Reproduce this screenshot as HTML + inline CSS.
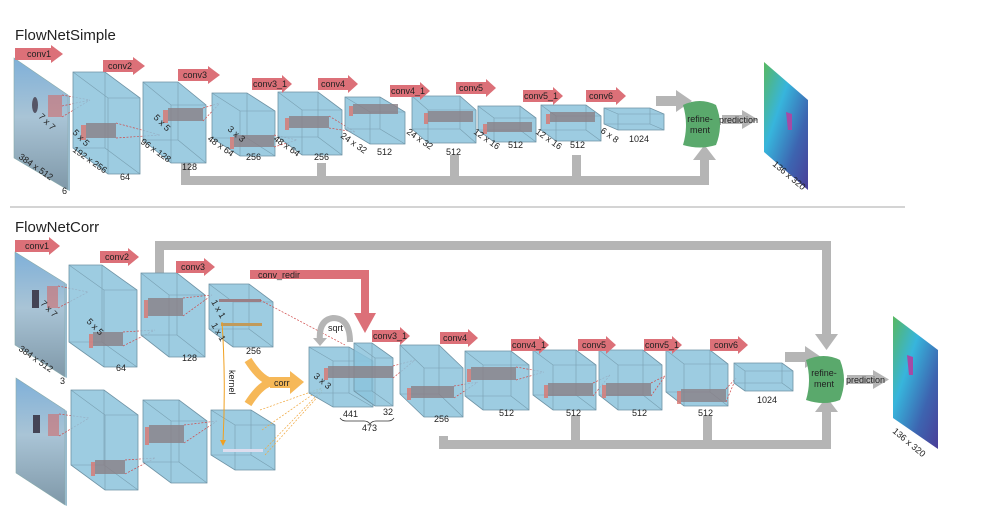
<!DOCTYPE html>
<html><head><meta charset="utf-8"><style>
html,body{margin:0;padding:0;background:#fff;}
svg{display:block;font-family:"Liberation Sans",sans-serif;}
.s{fill:#8cc3dc;fill-opacity:.85;stroke:#6f93a5;stroke-width:.8}
.e{fill:none;stroke:#6f93a5;stroke-width:.6;stroke-opacity:.8}
.ra{fill:#dc7078}
.rt{font-size:9px;fill:#222}
.l{font-size:9px;fill:#222}
.g{fill:#b5b5b5}
.p{fill:#8a7f86;fill-opacity:.8}
.pr{fill:#d9766f;fill-opacity:.8}
.d{stroke:#d04848;stroke-width:.7;stroke-dasharray:2,1.5;fill:none}
.od{stroke:#f0a840;stroke-width:.7;stroke-dasharray:2,1.5;fill:none}
</style></head><body>
<svg width="987" height="514" viewBox="0 0 987 514">
<defs>
<linearGradient id="img" x1="0" y1="0" x2="0" y2="1"><stop offset="0" stop-color="#7fb0d8"/><stop offset=".45" stop-color="#a9c4d6"/><stop offset="1" stop-color="#7f98a8"/></linearGradient>
<linearGradient id="flow" x1="0" y1="0" x2="1" y2="1"><stop offset="0" stop-color="#58b860"/><stop offset=".35" stop-color="#37b5dc"/><stop offset=".7" stop-color="#3d64b0"/><stop offset="1" stop-color="#4a3e98"/></linearGradient>
</defs>

<text x="15" y="40" font-size="15" fill="#222">FlowNetSimple</text>
<line x1="10" y1="207" x2="905" y2="207" stroke="#aaa" stroke-width="1"/>
<text x="15" y="232" font-size="15" fill="#222">FlowNetCorr</text>

<!-- ============ TOP ============ -->
<!-- gray bus -->
<rect class="g" x="181" y="176" width="528" height="9"/>
<rect class="g" x="181" y="163" width="9" height="20"/>
<rect class="g" x="317" y="163" width="9" height="20"/>
<rect class="g" x="450" y="155" width="9" height="25"/>
<rect class="g" x="572" y="155" width="9" height="25"/>
<rect class="g" x="700" y="160" width="9" height="20"/>
<polygon class="g" points="693,160 716,160 704.5,145"/>
<rect class="g" x="656" y="96" width="22" height="10"/>
<polygon class="g" points="676,90 676,112 692,101"/>
<rect class="g" x="722" y="115" width="22" height="9"/>
<polygon class="g" points="742,110 742,129 758,119.5"/>
<text class="l" x="719" y="123" font-size="8.5">prediction</text>

<!-- input image -->
<polygon points="14,58 68,95 68,190 14,158" fill="url(#img)" stroke="#8aa" stroke-width=".6"/>
<polygon points="68,95 70,96 70,191 68,190" fill="#9bc"/>
<ellipse cx="35" cy="105" rx="3" ry="8" fill="#556"/>
<rect x="48" y="95" width="14" height="22" fill="#d06a6a" fill-opacity=".6"/>
<path class="d" d="M62,95 L90,100 M62,117 L90,100 M62,106 L90,100"/>

<g transform="translate(73,72)"><path class="s" d="M0,0 h32 l35,26 v76 h-32 l-35,-26 z"/><path class="e" d="M0,0 l35,26 h32 M35,26 v76 M32,0 v76 h-32 M32,76 l35,26"/></g>
<rect class="pr" x="81" y="125" width="5" height="15"/><rect class="p" x="86" y="123" width="30" height="15"/>
<path class="d" d="M116,123 L160,135 M116,138 L160,135"/>
<g transform="translate(143,82)"><path class="s" d="M0,0 h35 l28,23 v58 h-35 l-28,-23 z"/><path class="e" d="M0,0 l28,23 h35 M28,23 v58 M35,0 v58 h-35 M35,58 l28,23"/></g>
<rect class="pr" x="163" y="110" width="5" height="13"/><rect class="p" x="168" y="108" width="35" height="13"/>
<path class="d" d="M203,108 L220,103 M203,121 L220,103"/>
<g transform="translate(212,93)"><path class="s" d="M0,0 h35 l28,18 v45 h-35 l-28,-18 z"/><path class="e" d="M0,0 l28,18 h35 M28,18 v45 M35,0 v45 h-35 M35,45 l28,18"/></g>
<rect class="pr" x="230" y="137" width="4" height="12"/><rect class="p" x="234" y="135" width="40" height="12"/>
<path class="d" d="M274,135 L297,140 M274,147 L297,140"/>
<g transform="translate(278,92)"><path class="s" d="M0,0 h40 l24,18 v45 h-40 l-24,-18 z"/><path class="e" d="M0,0 l24,18 h40 M24,18 v45 M40,0 v45 h-40 M40,45 l24,18"/></g>
<rect class="pr" x="285" y="118" width="4" height="12"/><rect class="p" x="289" y="116" width="40" height="12"/>
<path class="d" d="M329,116 L355,132 M329,128 L355,132"/>
<g transform="translate(345,97)"><path class="s" d="M0,0 h35 l25,15 v32 h-35 l-25,-15 z"/><path class="e" d="M0,0 l25,15 h35 M25,15 v32 M35,0 v32 h-35 M35,32 l25,15"/></g>
<rect class="pr" x="349" y="106" width="4" height="10"/><rect class="p" x="353" y="104" width="45" height="10"/>
<g transform="translate(412,96)"><path class="s" d="M0,0 h48 l16,14 v33 h-48 l-16,-14 z"/><path class="e" d="M0,0 l16,14 h48 M16,14 v33 M48,0 v33 h-48 M48,33 l16,14"/></g>
<rect class="pr" x="424" y="113" width="4" height="11"/><rect class="p" x="428" y="111" width="45" height="11"/>
<g transform="translate(478,106)"><path class="s" d="M0,0 h42 l16,12 v24 h-42 l-16,-12 z"/><path class="e" d="M0,0 l16,12 h42 M16,12 v24 M42,0 v24 h-42 M42,24 l16,12"/></g>
<rect class="pr" x="483" y="124" width="4" height="10"/><rect class="p" x="487" y="122" width="45" height="10"/>
<g transform="translate(541,105)"><path class="s" d="M0,0 h45 l15,11 v25 h-45 l-15,-11 z"/><path class="e" d="M0,0 l15,11 h45 M15,11 v25 M45,0 v25 h-45 M45,25 l15,11"/></g>
<rect class="pr" x="546" y="114" width="4" height="10"/><rect class="p" x="550" y="112" width="45" height="10"/>
<g transform="translate(604,108)"><path class="s" d="M0,0 h46 l14,6 v16 h-46 l-14,-6 z"/><path class="e" d="M0,0 l14,6 h46 M14,6 v16 M46,0 v16 h-46 M46,16 l14,6"/></g>

<!-- refinement top -->
<path d="M683,105 Q700,97 716,105 Q724,125 716,145 Q700,150 683,145 Q689,125 683,105 z" fill="#5aa96c"/>
<text class="l" x="700" y="122" text-anchor="middle" font-size="8">refine-</text>
<text class="l" x="700" y="133" text-anchor="middle" font-size="8">ment</text>
<!-- output -->
<polygon points="764,62 808,100 808,190 764,152" fill="url(#flow)"/>
<path d="M786,112 l6,2 l0,16 l-4,0 z" fill="#a54aa5"/>
<text class="l" transform="translate(772,165) rotate(40)">136 x 320</text>

<!-- red arrows top -->
<g transform="translate(15,48)"><path class="ra" d="M0,0 h36 v-3 l12,9 l-12,9 v-3 h-36 z"/><text class="rt" x="12" y="9">conv1</text></g>
<g transform="translate(103,60)"><path class="ra" d="M0,0 h30 v-3 l12,9 l-12,9 v-3 h-30 z"/><text class="rt" x="5" y="9">conv2</text></g>
<g transform="translate(178,69)"><path class="ra" d="M0,0 h30 v-3 l12,9 l-12,9 v-3 h-30 z"/><text class="rt" x="5" y="9">conv3</text></g>
<g transform="translate(252,78)"><path class="ra" d="M0,0 h30 v-3 l10,9 l-10,9 v-3 h-30 z"/><text class="rt" x="1" y="9">conv3_1</text></g>
<g transform="translate(318,78)"><path class="ra" d="M0,0 h30 v-3 l10,9 l-10,9 v-3 h-30 z"/><text class="rt" x="3" y="9">conv4</text></g>
<g transform="translate(390,85)"><path class="ra" d="M0,0 h30 v-3 l10,9 l-10,9 v-3 h-30 z"/><text class="rt" x="1" y="9">conv4_1</text></g>
<g transform="translate(456,82)"><path class="ra" d="M0,0 h30 v-3 l10,9 l-10,9 v-3 h-30 z"/><text class="rt" x="3" y="9">conv5</text></g>
<g transform="translate(523,90)"><path class="ra" d="M0,0 h30 v-3 l10,9 l-10,9 v-3 h-30 z"/><text class="rt" x="1" y="9">conv5_1</text></g>
<g transform="translate(586,90)"><path class="ra" d="M0,0 h30 v-3 l10,9 l-10,9 v-3 h-30 z"/><text class="rt" x="3" y="9">conv6</text></g>

<!-- top labels -->
<text class="l" transform="translate(38,117) rotate(45)">7 x 7</text>
<text class="l" transform="translate(72,133) rotate(45)">5 x 5</text>
<text class="l" transform="translate(72,151) rotate(35)">192 x 256</text>
<text class="l" x="120" y="180">64</text>
<text class="l" transform="translate(153,118) rotate(45)">5 x 5</text>
<text class="l" transform="translate(140,143) rotate(35)">96 x 128</text>
<text class="l" x="182" y="170">128</text>
<text class="l" transform="translate(227,130) rotate(40)">3 x 3</text>
<text class="l" transform="translate(207,140) rotate(35)">48 x 64</text>
<text class="l" x="246" y="160">256</text>
<text class="l" transform="translate(273,140) rotate(35)">48 x 64</text>
<text class="l" x="314" y="160">256</text>
<text class="l" transform="translate(340,137) rotate(35)">24 x 32</text>
<text class="l" x="377" y="155">512</text>
<text class="l" transform="translate(406,133) rotate(35)">24 x 32</text>
<text class="l" x="446" y="155">512</text>
<text class="l" transform="translate(473,133) rotate(35)">12 x 16</text>
<text class="l" x="508" y="148">512</text>
<text class="l" transform="translate(535,133) rotate(35)">12 x 16</text>
<text class="l" x="570" y="148">512</text>
<text class="l" transform="translate(600,132) rotate(35)">6 x 8</text>
<text class="l" x="629" y="142">1024</text>
<text class="l" transform="translate(18,158) rotate(35)">384 x 512</text>
<text class="l" x="62" y="194">6</text>

<!-- ============ BOTTOM ============ -->
<!-- top gray bus -->
<rect class="g" x="155" y="241" width="676" height="9"/>
<rect class="g" x="155" y="241" width="9" height="32"/>
<rect class="g" x="822" y="241" width="9" height="95"/>
<polygon class="g" points="815,334 838,334 826.5,350"/>
<rect class="g" x="439" y="436" width="9" height="12"/>
<rect class="g" x="439" y="440" width="392" height="9"/>
<rect class="g" x="571" y="416" width="9" height="28"/>
<rect class="g" x="703" y="416" width="9" height="28"/>
<rect class="g" x="822" y="410" width="9" height="35"/>
<polygon class="g" points="815,412 838,412 826.5,397"/>
<rect class="g" x="785" y="352" width="22" height="10"/>
<polygon class="g" points="805,346 805,368 821,357"/>
<rect class="g" x="847" y="375" width="28" height="9"/>
<polygon class="g" points="873,370 873,389 889,379.5"/>
<text class="l" x="846" y="383" font-size="8.5">prediction</text>

<!-- inputs -->
<polygon points="15,252 65,283 65,377 15,345" fill="url(#img)" stroke="#8aa" stroke-width=".6"/>
<polygon points="65,283 67,284 67,378 65,377" fill="#9bc"/>
<rect x="32" y="290" width="7" height="18" fill="#445"/>
<rect x="47" y="286" width="11" height="22" fill="#d06a6a" fill-opacity=".6"/>
<path class="d" d="M58,286 L88,292 M58,308 L88,292"/>
<polygon points="16,378 65,410 65,505 16,473" fill="url(#img)" stroke="#8aa" stroke-width=".6"/>
<polygon points="65,410 67,411 67,506 65,505" fill="#9bc"/>
<rect x="33" y="415" width="7" height="18" fill="#445"/>
<rect x="48" y="414" width="11" height="22" fill="#d06a6a" fill-opacity=".6"/>
<path class="d" d="M59,414 L89,418 M59,436 L89,418"/>

<g transform="translate(69,265)"><path class="s" d="M0,0 h33 l35,25 v77 h-33 l-35,-25 z"/><path class="e" d="M0,0 l35,25 h33 M35,25 v77 M33,0 v77 h-33 M33,77 l35,25"/></g>
<rect class="pr" x="89" y="334" width="4" height="14"/><rect class="p" x="93" y="332" width="30" height="14"/>
<path class="d" d="M123,332 L155,330 M123,346 L155,330"/>
<g transform="translate(71,390)"><path class="s" d="M0,0 h33 l34,25 v75 h-33 l-34,-25 z"/><path class="e" d="M0,0 l34,25 h33 M34,25 v75 M33,0 v75 h-33 M33,75 l34,25"/></g>
<rect class="pr" x="91" y="462" width="4" height="14"/><rect class="p" x="95" y="460" width="30" height="14"/>
<path class="d" d="M125,460 L155,458 M125,474 L155,458"/>
<g transform="translate(141,273)"><path class="s" d="M0,0 h36 l28,22 v62 h-36 l-28,-22 z"/><path class="e" d="M0,0 l28,22 h36 M28,22 v62 M36,0 v62 h-36 M36,62 l28,22"/></g>
<rect class="pr" x="144" y="300" width="4" height="18"/><rect class="p" x="148" y="298" width="35" height="18"/>
<path class="d" d="M183,298 L212,295 M183,316 L212,295"/>
<g transform="translate(143,400)"><path class="s" d="M0,0 h36 l28,21 v62 h-36 l-28,-21 z"/><path class="e" d="M0,0 l28,21 h36 M28,21 v62 M36,0 v62 h-36 M36,62 l28,21"/></g>
<rect class="pr" x="145" y="427" width="4" height="18"/><rect class="p" x="149" y="425" width="35" height="18"/>
<path class="d" d="M184,425 L217,421 M184,443 L217,421"/>
<g transform="translate(209,284)"><path class="s" d="M0,0 h40 l24,18 v45 h-40 l-24,-18 z"/><path class="e" d="M0,0 l24,18 h40 M24,18 v45 M40,0 v45 h-40 M40,45 l24,18"/></g>
<rect x="219" y="299" width="42" height="3" fill="#9a7f86"/>
<rect x="221" y="323" width="41" height="3" fill="#c19a5a"/>
<g transform="translate(211,410)"><path class="s" d="M0,0 h40 l24,15 v45 h-40 l-24,-15 z"/><path class="e" d="M0,0 l24,15 h40 M24,15 v45 M40,0 v45 h-40 M40,45 l24,15"/></g>
<rect x="223" y="449" width="40" height="3" fill="#dde"/>
<path class="od" d="M260,410 L322,388 M262,430 L322,388 M265,449 L322,390 M265,455 L322,392"/>
<path class="d" d="M260,300 L345,345"/>

<!-- conv_redir -->
<rect class="ra" x="250" y="270" width="119" height="9"/>
<rect class="ra" x="361" y="270" width="8" height="45"/>
<polygon class="ra" points="354,313 376,313 365,333"/>
<text class="rt" x="258" y="278">conv_redir</text>
<!-- sqrt -->
<path d="M320,342 Q318,320 333,318 Q350,318 350,342" fill="none" stroke="#b5b5b5" stroke-width="6"/>
<polygon class="g" points="313,338 327,338 320,346"/>
<text class="l" x="328" y="331">sqrt</text>
<!-- kernel -->
<path d="M222,322 Q226,380 223,443" fill="none" stroke="#f0a020" stroke-width="1"/>
<polygon points="220,440 226,440 223,446" fill="#f0a020"/>
<text class="l" transform="translate(229,370) rotate(90)" font-size="8">kernel</text>
<!-- corr -->
<path d="M248,360 Q262,382 274,382 Q262,382 248,404" fill="none" stroke="#f6b858" stroke-width="8"/>
<rect x="270" y="377" width="22" height="11" fill="#f6b858"/>
<polygon points="290,371 290,394 304,382" fill="#f6b858"/>
<text class="rt" x="274" y="386">corr</text>

<g transform="translate(309,347)"><path class="s" d="M0,0 h40 l24,14 v46 h-40 l-24,-14 z"/><path class="e" d="M0,0 l24,14 h40 M24,14 v46 M40,0 v46 h-40 M40,46 l24,14"/></g>
<g transform="translate(354,343)"><path class="s" d="M0,0 h18 l21,15 v48 h-18 l-21,-15 z"/><path class="e" d="M0,0 l21,15 h18 M21,15 v48 M18,0 v48 h-18 M18,48 l21,15"/></g>
<rect class="pr" x="324" y="368" width="4" height="12"/><rect class="p" x="328" y="366" width="65" height="12"/>
<path class="d" d="M393,366 L415,360 M393,378 L415,360"/>
<text class="l" transform="translate(313,377) rotate(40)">3 x 3</text>
<text class="l" x="343" y="417">441</text>
<text class="l" x="383" y="415">32</text>
<path d="M340,418 q2,3 6,3 h18 q4,0 6,3 q2,-3 6,-3 h12 q4,0 6,-3" fill="none" stroke="#333" stroke-width=".7"/>
<text class="l" x="362" y="431">473</text>

<g transform="translate(400,345)"><path class="s" d="M0,0 h39 l24,23 v49 h-39 l-24,-23 z"/><path class="e" d="M0,0 l24,23 h39 M24,23 v49 M39,0 v49 h-39 M39,49 l24,23"/></g>
<rect class="pr" x="407" y="388" width="4" height="12"/><rect class="p" x="411" y="386" width="43" height="12"/>
<path class="d" d="M454,386 L478,382 M454,398 L478,382"/>
<g transform="translate(465,351)"><path class="s" d="M0,0 h46 l18,14 v45 h-46 l-18,-14 z"/><path class="e" d="M0,0 l18,14 h46 M18,14 v45 M46,0 v45 h-46 M46,45 l18,14"/></g>
<rect class="pr" x="467" y="369" width="4" height="13"/><rect class="p" x="471" y="367" width="45" height="13"/>
<path class="d" d="M516,367 L544,372 M516,380 L544,372"/>
<g transform="translate(533,350)"><path class="s" d="M0,0 h43 l20,15 v45 h-43 l-20,-15 z"/><path class="e" d="M0,0 l20,15 h43 M20,15 v45 M43,0 v45 h-43 M43,45 l20,15"/></g>
<rect class="pr" x="544" y="385" width="4" height="13"/><rect class="p" x="548" y="383" width="45" height="13"/>
<path class="d" d="M593,383 L610,375 M593,396 L610,375"/>
<g transform="translate(599,350)"><path class="s" d="M0,0 h44 l19,15 v45 h-44 l-19,-15 z"/><path class="e" d="M0,0 l19,15 h44 M19,15 v45 M44,0 v45 h-44 M44,45 l19,15"/></g>
<rect class="pr" x="602" y="385" width="4" height="13"/><rect class="p" x="606" y="383" width="45" height="13"/>
<path class="d" d="M651,383 L665,376 M651,396 L665,376"/>
<g transform="translate(666,350)"><path class="s" d="M0,0 h44 l18,14 v42 h-44 l-18,-14 z"/><path class="e" d="M0,0 l18,14 h44 M18,14 v42 M44,0 v42 h-44 M44,42 l18,14"/></g>
<rect class="pr" x="677" y="391" width="4" height="13"/><rect class="p" x="681" y="389" width="45" height="13"/>
<path class="d" d="M726,389 L736,378 M726,402 L736,378"/>
<g transform="translate(734,363)"><path class="s" d="M0,0 h48 l11,8 v20 h-48 l-11,-8 z"/><path class="e" d="M0,0 l11,8 h48 M11,8 v20 M48,0 v20 h-48 M48,20 l11,8"/></g>

<!-- refinement bottom -->
<path d="M806,360 Q824,352 840,360 Q848,380 840,400 Q824,406 806,400 Q812,380 806,360 z" fill="#5aa96c"/>
<text class="l" x="824" y="376" text-anchor="middle" font-size="8">refine-</text>
<text class="l" x="824" y="387" text-anchor="middle" font-size="8">ment</text>
<polygon points="893,316 938,350 938,449 893,418" fill="url(#flow)"/>
<path d="M907,355 l6,2 l0,18 l-4,0 z" fill="#a54aa5"/>
<text class="l" transform="translate(892,432) rotate(40)">136 x 320</text>

<!-- red arrows bottom -->
<g transform="translate(15,240)"><path class="ra" d="M0,0 h34 v-3 l11,9 l-11,9 v-3 h-34 z"/><text class="rt" x="10" y="9">conv1</text></g>
<g transform="translate(100,251)"><path class="ra" d="M0,0 h28 v-3 l11,9 l-11,9 v-3 h-28 z"/><text class="rt" x="5" y="9">conv2</text></g>
<g transform="translate(176,261)"><path class="ra" d="M0,0 h28 v-3 l11,9 l-11,9 v-3 h-28 z"/><text class="rt" x="5" y="9">conv3</text></g>
<g transform="translate(372,330)"><path class="ra" d="M0,0 h28 v-3 l10,9 l-10,9 v-3 h-28 z"/><text class="rt" x="1" y="9">conv3_1</text></g>
<g transform="translate(440,332)"><path class="ra" d="M0,0 h28 v-3 l10,9 l-10,9 v-3 h-28 z"/><text class="rt" x="3" y="9">conv4</text></g>
<g transform="translate(511,339)"><path class="ra" d="M0,0 h28 v-3 l10,9 l-10,9 v-3 h-28 z"/><text class="rt" x="1" y="9">conv4_1</text></g>
<g transform="translate(578,339)"><path class="ra" d="M0,0 h28 v-3 l10,9 l-10,9 v-3 h-28 z"/><text class="rt" x="4" y="9">conv5</text></g>
<g transform="translate(644,339)"><path class="ra" d="M0,0 h28 v-3 l10,9 l-10,9 v-3 h-28 z"/><text class="rt" x="1" y="9">conv5_1</text></g>
<g transform="translate(710,339)"><path class="ra" d="M0,0 h28 v-3 l10,9 l-10,9 v-3 h-28 z"/><text class="rt" x="4" y="9">conv6</text></g>

<!-- bottom labels -->
<text class="l" transform="translate(40,304) rotate(45)">7 x 7</text>
<text class="l" transform="translate(86,322) rotate(45)">5 x 5</text>
<text class="l" transform="translate(211,302) rotate(60)">1 x 1</text>
<text class="l" transform="translate(211,325) rotate(60)">1 x 1</text>
<text class="l" transform="translate(18,350) rotate(35)">384 x 512</text>
<text class="l" x="60" y="384">3</text>
<text class="l" x="116" y="371">64</text>
<text class="l" x="182" y="361">128</text>
<text class="l" x="246" y="354">256</text>
<text class="l" x="434" y="422">256</text>
<text class="l" x="499" y="416">512</text>
<text class="l" x="566" y="416">512</text>
<text class="l" x="632" y="416">512</text>
<text class="l" x="698" y="416">512</text>
<text class="l" x="757" y="403">1024</text>
</svg>
</body></html>
